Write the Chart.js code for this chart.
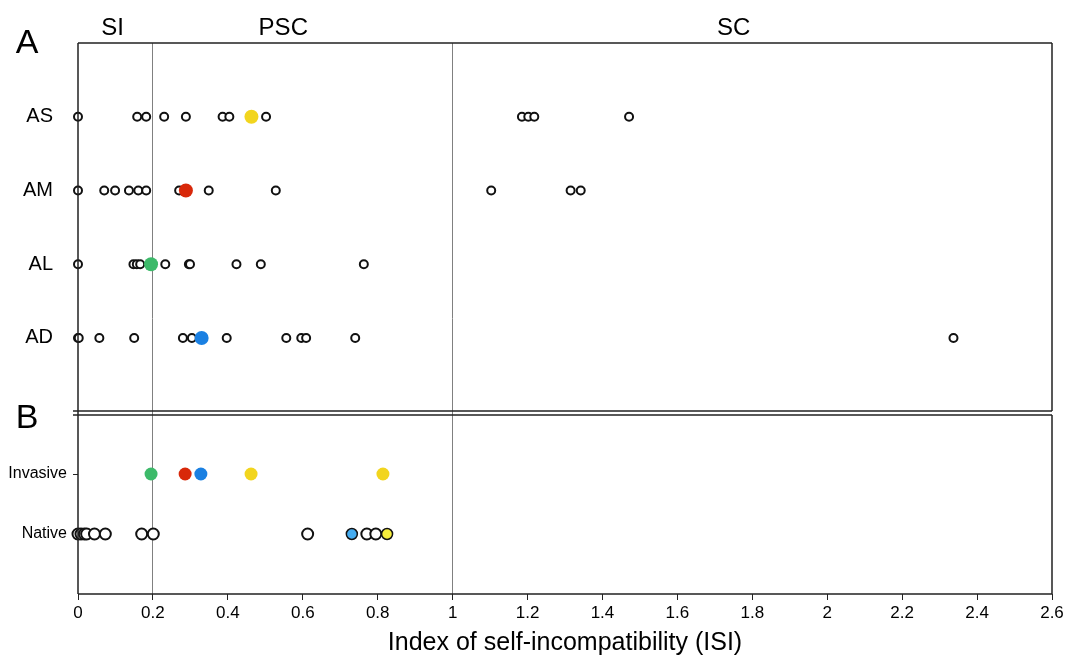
<!DOCTYPE html>
<html>
<head>
<meta charset="utf-8">
<title>Index of self-incompatibility</title>
<script src="https://cdn.jsdelivr.net/npm/chart.js@4/dist/chart.umd.min.js"></script>
<style>
  html, body { margin: 0; padding: 0; background: #fff; }
  canvas { display: block; }
</style>
</head>
<body>
<canvas id="isiChart" width="1069" height="658"></canvas>
<script>
// x axis ticks
const isiTicks = [0, 0.2, 0.4, 0.6, 0.8, 1, 1.2, 1.4, 1.6, 1.8, 2, 2.2, 2.4, 2.6];

// panel A: rows from top to bottom
const rowsA = ['AS', 'AM', 'AL', 'AD'];
const isiAS = [0, 0.158, 0.182, 0.230, 0.288, 0.386, 0.404, 0.502, 1.185, 1.202, 1.218, 1.471];
const isiAM = [0, 0.070, 0.099, 0.136, 0.161, 0.182, 0.270, 0.349, 0.528, 1.103, 1.315, 1.342];
const isiAL = [0, 0.148, 0.157, 0.166, 0.233, 0.296, 0.299, 0.423, 0.488, 0.763];
const isiAD = [0, 0.002, 0.057, 0.150, 0.280, 0.304, 0.397, 0.556, 0.596, 0.609, 0.740, 2.337];
const invasiveA = [0.463, 0.288, 0.195, 0.330];
const colorsA = ['#f2d51e', '#d8280a', '#3dba6a', '#1a80e2'];

// panel B: Invasive above Native
const rowsB = ['Native', 'Invasive'];
const invasiveB = [0.195, 0.286, 0.328, 0.462, 0.814];
const invasiveBColors = ['#3dba6a', '#d8280a', '#1a80e2', '#f2d51e', '#f2d51e'];
const nativeB = [0, 0.008, 0.017, 0.023, 0.044, 0.073, 0.170, 0.201, 0.613, 0.771, 0.795];
const nativeBMarked = [0.731, 0.825];
const nativeBColors = ['#45acf0', '#f7ee3c'];

const FONT = "'Liberation Sans', Arial, sans-serif";
Chart.defaults.font.family = FONT;
Chart.defaults.color = '#000';

const seriesA = [isiAS, isiAM, isiAL, isiAD];
const datasets = [];

// open circles, panel A (row AS = 4 ... AD = 1)
seriesA.forEach((vals, i) => {
  datasets.push({
    data: vals.map(v => ({ x: v, y: rowsA.length - i })),
    yAxisID: 'yA',
    pointRadius: 4,
    pointBackgroundColor: '#fff',
    pointBorderColor: '#111',
    pointBorderWidth: 2,
    order: 2
  });
});

// coloured invasive points, panel A
datasets.push({
  data: invasiveA.map((v, i) => ({ x: v, y: rowsA.length - i })),
  yAxisID: 'yA',
  pointRadius: 7,
  pointBackgroundColor: colorsA,
  pointBorderWidth: 0,
  order: 0
});

// panel B
datasets.push({
  data: nativeB.map(v => ({ x: v, y: 1 })),
  yAxisID: 'yB',
  pointRadius: 5.5,
  pointBackgroundColor: '#fff',
  pointBorderColor: '#111',
  pointBorderWidth: 2,
  order: 2
});
datasets.push({
  data: nativeBMarked.map(v => ({ x: v, y: 1 })),
  yAxisID: 'yB',
  pointRadius: 5.5,
  pointBackgroundColor: nativeBColors,
  pointBorderColor: '#111',
  pointBorderWidth: 1.5,
  order: 1
});
datasets.push({
  data: invasiveB.map(v => ({ x: v, y: 2 })),
  yAxisID: 'yB',
  pointRadius: 6.5,
  pointBackgroundColor: invasiveBColors,
  pointBorderWidth: 0,
  order: 0
});
datasets.forEach(d => { d.clip = false; d.showLine = false; });

// frames for both panels, axis break and panel / zone labels
const panelFrame = {
  id: 'panelFrame',
  afterDraw(chart) {
    const { ctx } = chart;
    const x = chart.scales.x, yA = chart.scales.yA, yB = chart.scales.yB;
    const l = x.left, r = x.right;
    const topA = yA.top, botA = yA.bottom - 2, topB = yB.top + 2, botB = yB.bottom;

    ctx.save();
    ctx.lineWidth = 1.5;
    ctx.strokeStyle = '#222';
    ctx.beginPath();
    ctx.moveTo(l, topA); ctx.lineTo(r, topA);
    ctx.moveTo(l, topA); ctx.lineTo(l, botB);
    ctx.moveTo(r, topA); ctx.lineTo(r, botA);
    ctx.moveTo(r, topB); ctx.lineTo(r, botB);
    ctx.moveTo(l - 5, botA); ctx.lineTo(r, botA);
    ctx.moveTo(l - 5, topB); ctx.lineTo(r, topB);
    ctx.moveTo(l, botB); ctx.lineTo(r, botB);
    ctx.stroke();

    ctx.fillStyle = '#000';
    ctx.textAlign = 'center';
    ctx.textBaseline = 'alphabetic';
    ctx.font = '34px ' + FONT;
    ctx.fillText('A', 27, 53);
    ctx.fillText('B', 27, 428);

    ctx.font = '24px ' + FONT;
    ctx.fillText('SI', x.getPixelForValue(0.092), 35);
    ctx.fillText('PSC', x.getPixelForValue(0.548), 35);
    ctx.fillText('SC', x.getPixelForValue(1.75), 35);
    ctx.restore();
  }
};

new Chart(document.getElementById('isiChart'), {
  type: 'scatter',
  data: { datasets },
  plugins: [panelFrame],
  options: {
    responsive: false,
    animation: false,
    devicePixelRatio: 1,
    layout: { padding: { top: 43, right: 17, left: 0, bottom: 0 } },
    plugins: { legend: { display: false }, tooltip: { enabled: false } },
    scales: {
      x: {
        type: 'linear',
        min: 0,
        max: 2.6,
        afterBuildTicks: s => { s.ticks = isiTicks.map(v => ({ value: v })); },
        afterFit: s => { s.height = 64; },
        border: { display: false },
        grid: {
          color: c => (c.tick && (c.tick.value === 0.2 || c.tick.value === 1)) ? '#808080' : 'rgba(0,0,0,0)',
          tickColor: '#222',
          tickLength: 6,
          lineWidth: 1
        },
        ticks: {
          font: { size: 17 },
          padding: 3,
          maxRotation: 0,
          autoSkip: false,
          callback: v => String(+v.toFixed(1))
        },
        title: {
          display: true,
          text: 'Index of self-incompatibility (ISI)',
          font: { size: 25 },
          padding: { top: 0, bottom: 0 }
        }
      },
      yB: {
        type: 'linear',
        position: 'left',
        stack: 'panels',
        stackWeight: 181,
        min: 0,
        max: 3.017,
        afterBuildTicks: s => { s.ticks = [1, 2].map(v => ({ value: v })); },
        afterFit: s => { s.width = 78; },
        border: { display: false },
        grid: { drawOnChartArea: false, tickLength: 5, color: '#222' },
        ticks: {
          font: { size: 16 },
          padding: 6,
          callback: v => rowsB[v - 1]
        }
      },
      yA: {
        type: 'linear',
        position: 'left',
        stack: 'panels',
        stackWeight: 370,
        min: -0.018,
        max: 5,
        afterBuildTicks: s => { s.ticks = [1, 2, 3, 4].map(v => ({ value: v })); },
        afterFit: s => { s.width = 78; },
        border: { display: false },
        grid: { display: false, drawTicks: false },
        ticks: {
          font: { size: 20 },
          padding: 25,
          callback: v => rowsA[rowsA.length - v]
        }
      }
    }
  }
});
</script>
</body>
</html>
